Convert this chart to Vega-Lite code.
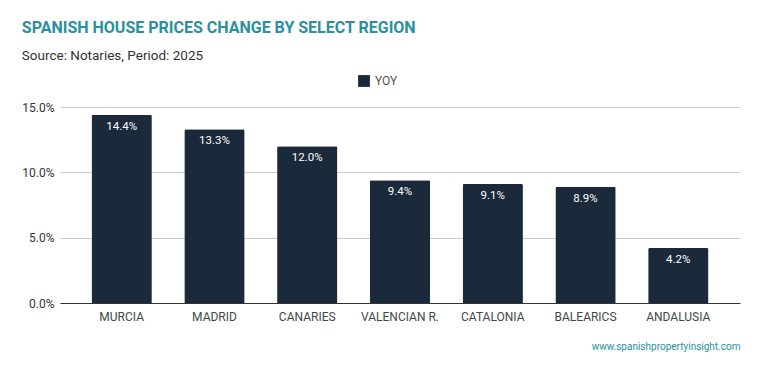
{
  "$schema": "https://vega.github.io/schema/vega-lite/v6.json",
  "width": 680,
  "height": 196,
  "autosize": {"type": "none"},
  "padding": {"left": 60, "top": 107, "right": 19, "bottom": 68},
  "background": "white",
  "config": {"view": {"stroke": null}},
  "title": {
    "text": "SPANISH HOUSE PRICES CHANGE BY SELECT REGION",
    "subtitle": "Source: Notaries, Period: 2025",
    "anchor": "start",
    "frame": "bounds",
    "font": "Roboto",
    "fontSize": 16,
    "fontWeight": "bold",
    "color": "#2a8fa0",
    "subtitleFont": "Roboto",
    "subtitleFontSize": 13.5,
    "subtitleColor": "#333333",
    "subtitlePadding": 13,
    "offset": 12
  },
  "data": {
    "values": [
      {"region": "MURCIA", "series": "YOY", "value": 0.144},
      {"region": "MADRID", "series": "YOY", "value": 0.133},
      {"region": "CANARIES", "series": "YOY", "value": 0.120},
      {"region": "VALENCIAN R.", "series": "YOY", "value": 0.094},
      {"region": "CATALONIA", "series": "YOY", "value": 0.091},
      {"region": "BALEARICS", "series": "YOY", "value": 0.089},
      {"region": "ANDALUSIA", "series": "YOY", "value": 0.042}
    ]
  },
  "encoding": {
    "x": {
      "field": "region",
      "type": "nominal",
      "sort": null,
      "scale": {"paddingInner": 0.35, "paddingOuter": 0.34},
      "axis": {
        "title": "www.spanishpropertyinsight.com",
        "titleAnchor": "end",
        "titleColor": "#2a8fa0",
        "titleFont": "Roboto",
        "titleFontSize": 10,
        "titleFontWeight": "normal",
        "titlePadding": 19,
        "labelAngle": 0,
        "labelFont": "Roboto",
        "labelFontSize": 12,
        "labelColor": "#3d4a48",
        "labelPadding": 8,
        "ticks": false,
        "domainColor": "#333333",
        "grid": false
      }
    },
    "y": {
      "field": "value",
      "type": "quantitative",
      "scale": {"domain": [0, 0.15]},
      "axis": {
        "title": null,
        "format": ".1%",
        "values": [0, 0.05, 0.1, 0.15],
        "labelFont": "Roboto",
        "labelFontSize": 12,
        "labelColor": "#333333",
        "labelPadding": 6,
        "ticks": false,
        "domain": false,
        "gridColor": "#cccccc"
      }
    }
  },
  "layer": [
    {
      "mark": {"type": "bar", "cornerRadiusEnd": 1.5},
      "encoding": {
        "color": {
          "field": "series",
          "type": "nominal",
          "scale": {"range": ["#1a2a3a"]},
          "legend": {
            "title": null,
            "orient": "none",
            "legendX": 297,
            "legendY": -33,
            "direction": "horizontal",
            "symbolType": "square",
            "symbolSize": 140,
            "labelFont": "Roboto",
            "labelFontSize": 12,
            "labelColor": "#555555"
          }
        }
      }
    },
    {
      "mark": {"type": "text", "baseline": "top", "dy": 6, "color": "white", "font": "Roboto", "fontSize": 11.5},
      "encoding": {
        "text": {"field": "value", "type": "quantitative", "format": ".1%"}
      }
    }
  ]
}
